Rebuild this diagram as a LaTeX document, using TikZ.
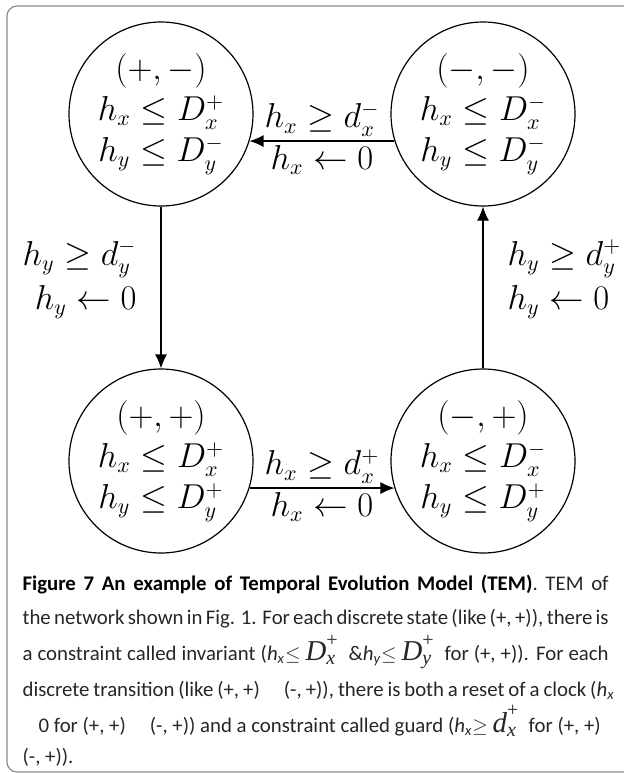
\documentclass[tikz,border=0pt]{standalone}
\usepackage{amsmath,amssymb}
\usepackage{fontspec}
\setsansfont{Carlito}
\newfontfamily\tmsfont{Liberation Serif}
\usetikzlibrary{arrows.meta,positioning}
\def\capvar#1#2#3{$\text{\tmsfont\itshape\Large #1}^{\text{\tmsfont\normalsize #3}}_{\text{\tmsfont\itshape\normalsize #2}}$}
\def\caph#1{{\itshape h}\textsubscript{\itshape #1}}
\def\capfull#1{\makebox[293pt][s]{#1}}

\begin{document}
\begin{tikzpicture}[x=0.5pt,y=-0.5pt,line width=0.6pt,
    state/.style={draw,circle,minimum size=92pt,inner sep=0pt,align=center,
      font=\fontsize{16}{20.5}\selectfont},
    trans/.style={-{Latex[length=7pt,width=6pt]}},
    guard/.style={inner sep=2pt,font=\fontsize{16}{22}\selectfont},
    capline/.style={anchor=base west,inner sep=0pt,text=black!85,
      font=\sffamily\fontsize{10.4}{12}\selectfont}]
    \useasboundingbox (0,0) rectangle (624,773);
    \draw[black!45,rounded corners=5pt] (624,6) -- (7,6) -- (7,772) -- (624,772);
    % states
    \node[state] (pm) at (161,114) {$(+,-)$\\$h_x\leq D_x^+$\\$h_y\leq D_y^-$};
    \node[state] (mm) at (483,114) {$(-,-)$\\$h_x\leq D_x^-$\\$h_y\leq D_y^-$};
    \node[state] (pp) at (161,461) {$(+,+)$\\$h_x\leq D_x^+$\\$h_y\leq D_y^+$};
    \node[state] (mp) at (483,461) {$(-,+)$\\$h_x\leq D_x^-$\\$h_y\leq D_y^+$};
    % transitions
    \draw[trans] (mm.197.7) -- node[guard,above]{$h_x\geq d_x^-$}
      node[guard,below]{$h_x\leftarrow 0$} (pm.-17.7);
    \draw[trans] (pp.-17.7) -- node[guard,above]{$h_x\geq d_x^+$}
      node[guard,below]{$h_x\leftarrow 0$} (mp.197.7);
    \draw[trans] (pm) -- node[guard,pos=0.45,left=10pt,align=right]
      {$h_y\geq d_y^-$\\$h_y\leftarrow 0$} (pp);
    \draw[trans] (mp) -- node[guard,pos=0.55,right=10pt,align=left]
      {$h_y\geq d_y^+$\\$h_y\leftarrow 0$} (mm);
    % caption
    \node[capline] (c1) at (22,590) {\capfull{\textbf{\color{black}Figure 7 An example of Temporal Evolution Model (TEM)}. TEM of}};
    \node[capline] (c2) at (22,624) {\capfull{the network shown in Fig. 1. For each discrete state (like (+, +)), there is}};
    \node[capline] (c3) at (22,660) {\capfull{a constraint called invariant (\caph{x}$\leq$ \capvar{D}{x}{+}\ \ \&\caph{y}$\leq$ \capvar{D}{y}{+}\ \ for (+, +)). For each}};
    \node[capline] (c4) at (22,696) {\makebox[296pt][s]{discrete transition (like (+, +)\hspace{12pt}(-, +)), there is both a reset of a clock (\caph{x}}};
    \node[capline] (c5) at (22,732) {\hspace{8pt}0 for (+, +)\hspace{12pt}(-, +)) and a constraint called guard (\caph{x}$\geq$ \capvar{d}{x}{+}\ \ for (+, +)};
    \node[capline] (c6) at (22,763) {(-, +)).};
\end{tikzpicture}
\end{document}
